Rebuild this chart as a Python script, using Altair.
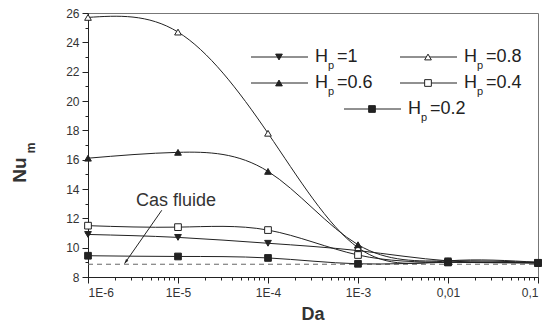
import altair as alt
import pandas as pd

# ---- data ----
da_values = [1e-6, 1e-5, 1e-4, 1e-3, 1e-2, 1e-1]
series_names = ["Hp=1", "Hp=0.8", "Hp=0.6", "Hp=0.4", "Hp=0.2"]
nu_hp1 = [10.9, 10.7, 10.3, 9.8, 9.1, 9.0]
nu_hp08 = [25.7, 24.7, 17.8, 10.0, 9.1, 9.0]
nu_hp06 = [16.1, 16.5, 15.2, 10.2, 9.1, 9.0]
nu_hp04 = [11.5, 11.4, 11.2, 9.5, 9.0, 8.95]
nu_hp02 = [9.45, 9.4, 9.3, 8.9, 9.0, 8.95]
fluid_nu = 8.87
fluid_da = [1e-6, 1e-1]

legend_main = ["H", "H", "H", "H", "H"]
legend_rest = ["=1", "=0.8", "=0.6", "=0.4", "=0.2"]

shapes = ["triangle-down", "triangle-up", "triangle-up", "square", "square"]
fills = ["#222222", "white", "#222222", "white", "#222222"]

W, H = 450, 264
FONT = "Liberation Sans"
INK = "#222222"

rows = []
for name, vals in zip(series_names, [nu_hp1, nu_hp08, nu_hp06, nu_hp04, nu_hp02]):
    for d, v in zip(da_values, vals):
        rows.append({"series": name, "Da": d, "Nu": v})
df = pd.DataFrame(rows)

# axis tick values (major + minor)
xticks = []
for e in range(-6, -1):
    for k in range(1, 10):
        xticks.append(float(f"{k}e{e}"))
xticks.append(0.1)
yticks = list(range(8, 27))

is_decade = "abs(log(datum.value)/LN10 - round(log(datum.value)/LN10)) < 1e-6"
x_label = (f"{is_decade} ? (datum.value >= 0.01 ? replace(format(datum.value, '.2~f'), '.', ',') "
           f": '1E' + round(log(datum.value)/LN10)) : ''")

xscale = alt.Scale(type="log", domain=[1e-6, 0.1])
yscale = alt.Scale(domain=[8, 26], nice=False)

xaxis = alt.Axis(values=xticks, labelExpr=x_label, title=None, grid=False,
                 tickSize={"condition": {"test": is_decade, "value": 6}, "value": 3},
                 labelOverlap=False, labelFont=FONT, labelFontSize=12, labelColor="#333",
                 domainColor=INK, tickColor=INK, labelPadding=4)
yaxis = alt.Axis(values=yticks, labelExpr="datum.value % 2 == 0 ? '' + datum.value : ''",
                 title=None, grid=False,
                 tickSize={"condition": {"test": "datum.value % 2 == 0", "value": 6}, "value": 3},
                 labelOverlap=False, labelFont=FONT, labelFontSize=12, labelColor="#333",
                 domainColor=INK, tickColor=INK, labelPadding=3)

X = alt.X("Da:Q", scale=xscale, axis=xaxis)
Y = alt.Y("Nu:Q", scale=yscale, axis=yaxis)

base = alt.Chart(df).encode(x=X, y=Y)

lines = base.mark_line(interpolate="natural", strokeWidth=1, color=INK).encode(
    detail="series:N")

shape_scale = alt.Scale(domain=series_names, range=shapes)
fill_scale = alt.Scale(domain=series_names, range=fills)

points = base.mark_point(size=45, stroke=INK, strokeWidth=1, opacity=1, filled=False).encode(
    shape=alt.Shape("series:N", scale=shape_scale, legend=None),
    fill=alt.Fill("series:N", scale=fill_scale, legend=None),
)

fluid_df = pd.DataFrame({"Da": fluid_da, "Nu": [fluid_nu] * len(fluid_da)})
fluid = alt.Chart(fluid_df).mark_line(color="#666", strokeDash=[5, 4], strokeWidth=1).encode(
    x=X, y=Y)

# annotation "Cas fluide" with arrow
ann_text = alt.Chart(pd.DataFrame({"Da": [9.5e-6], "Nu": [13.2], "t": ["Cas fluide"]})).mark_text(
    font=FONT, fontSize=18, color="#333", align="center", baseline="middle").encode(
    x=X, y=Y, text="t:N")
arrow_df = pd.DataFrame({"Da": [6.6e-6, 2.55e-6], "Nu": [12.55, 8.92]})
arrow_line = alt.Chart(arrow_df).mark_line(color=INK, strokeWidth=1).encode(x=X, y=Y)
arrow_head = alt.Chart(arrow_df.iloc[[1]]).mark_point(
    shape="M0,0 L-0.45,-1.4 L0.45,-1.4 Z", size=40, filled=True, color=INK, opacity=1,
    angle=36).encode(x=X, y=Y)

# ---- legend (pixel positioned) ----
leg_x = [163, 312, 163, 312, 256]
leg_y = [44, 44, 70, 70, 96]
leg = pd.DataFrame({"series": series_names, "lx": leg_x, "ly": leg_y,
                    "main": legend_main, "rest": legend_rest})
leg["x1"] = leg["lx"]
leg["x2"] = leg["lx"] + 57
leg["xm"] = leg["lx"] + 28
leg["xt"] = leg["lx"] + 64
leg["xp"] = leg["lx"] + 77
leg["xr"] = leg["lx"] + 86
leg["sub"] = "p"
leg["yp"] = leg["ly"] + 9

lbase = alt.Chart(leg)
leg_lines = lbase.mark_rule(color=INK, strokeWidth=1).encode(
    x=alt.X("x1:Q", scale=None), x2="x2:Q", y=alt.Y("ly:Q", scale=None))
leg_pts = lbase.mark_point(size=45, stroke=INK, strokeWidth=1, opacity=1).encode(
    x=alt.X("xm:Q", scale=None), y=alt.Y("ly:Q", scale=None),
    shape=alt.Shape("series:N", scale=shape_scale, legend=None),
    fill=alt.Fill("series:N", scale=fill_scale, legend=None))
leg_h = lbase.mark_text(font=FONT, fontSize=18, color=INK, align="left", baseline="middle").encode(
    x=alt.X("xt:Q", scale=None), y=alt.Y("ly:Q", scale=None), text="main:N")
leg_p = lbase.mark_text(font=FONT, fontSize=11, color=INK, align="left", baseline="middle").encode(
    x=alt.X("xp:Q", scale=None), y=alt.Y("yp:Q", scale=None), text="sub:N")
leg_r = lbase.mark_text(font=FONT, fontSize=18, color=INK, align="left", baseline="middle").encode(
    x=alt.X("xr:Q", scale=None), y=alt.Y("ly:Q", scale=None), text="rest:N")

# ---- axis titles ----
titles = pd.DataFrame({"tx": [W / 2], "ty": [H + 38], "t": ["Da"]})
x_title = alt.Chart(titles).mark_text(font=FONT, fontSize=18, fontWeight="bold", color="#333",
                                      align="center", baseline="middle").encode(
    x=alt.X("tx:Q", scale=None), y=alt.Y("ty:Q", scale=None), text="t:N")
ytit = pd.DataFrame({"tx": [-68, -57], "ty": [157, 135], "t": ["Nu", "m"]})
y_title_main = alt.Chart(ytit.iloc[[0]]).mark_text(font=FONT, fontSize=19, fontWeight="bold",
                                                   color="#333", angle=270, align="center",
                                                   baseline="middle").encode(
    x=alt.X("tx:Q", scale=None), y=alt.Y("ty:Q", scale=None), text="t:N")
y_title_sub = alt.Chart(ytit.iloc[[1]]).mark_text(font=FONT, fontSize=12, fontWeight="bold",
                                                  color="#333", angle=270, align="center",
                                                  baseline="middle").encode(
    x=alt.X("tx:Q", scale=None), y=alt.Y("ty:Q", scale=None), text="t:N")

chart = alt.layer(
    fluid, lines, points, arrow_line, arrow_head, ann_text,
    leg_lines, leg_pts, leg_h, leg_p, leg_r, x_title, y_title_main, y_title_sub,
).resolve_scale(shape="shared", fill="shared").properties(
    width=W, height=H,
    autosize=alt.AutoSizeParams(type="none"),
    padding={"left": 88, "top": 13, "right": 5, "bottom": 48},
    background="white",
).configure_view(stroke="#777", strokeWidth=1)

chart.save("out.html", embed_options={"renderer": "svg", "actions": False})
